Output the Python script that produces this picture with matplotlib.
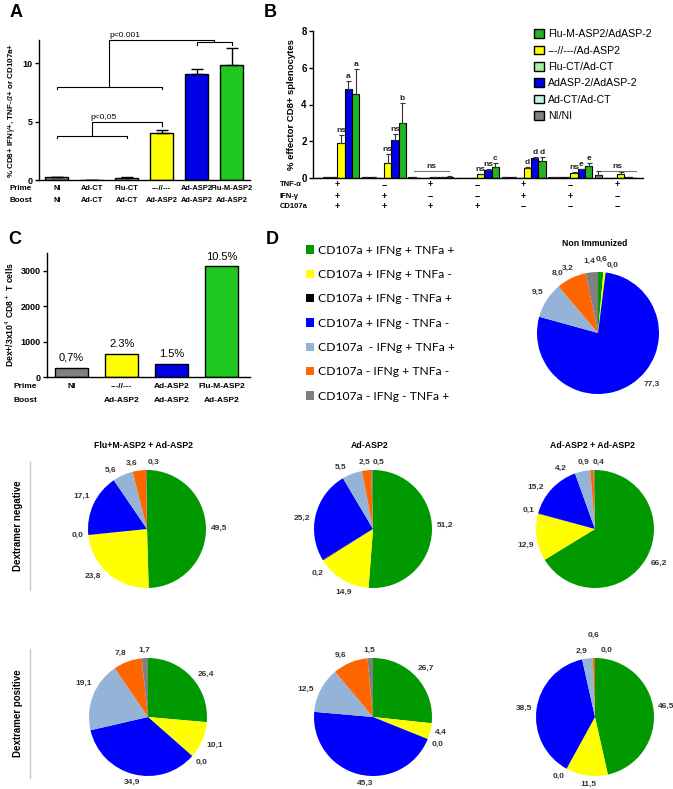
import numpy as np
import matplotlib
matplotlib.use("Agg")
import matplotlib.pyplot as plt
from matplotlib.patches import Patch
from matplotlib.lines import Line2D
from matplotlib.transforms import blended_transform_factory

plt.rcParams['font.family'] = ['Liberation Sans', 'DejaVu Sans']
plt.rcParams['axes.linewidth'] = 1.0

W, H = 673, 789

# ---------------- data ----------------
# panel A
a_prime = ['NI', 'Ad-CT', 'Flu-CT', '---//---', 'Ad-ASP2', 'Flu-M-ASP2']
a_boost = ['NI', 'Ad-CT', 'Ad-CT', 'Ad-ASP2', 'Ad-ASP2', 'Ad-ASP2']
a_vals = [0.28, 0.03, 0.15, 4.0, 9.06, 9.83]
a_err = [0.0, 0.0, 0.08, 0.27, 0.49, 1.47]
a_cols = ['#808080', '#b4f0e6', '#a6eea6', '#ffff00', '#0000e6', '#1ec81e']

# panel B (7 cytokine combinations, 6 groups of mice)
b_tnf = ['+', '\u2212', '+', '\u2212', '+', '\u2212', '+']
b_ifn = ['+', '+', '\u2212', '\u2212', '+', '+', '\u2212']
b_cd107 = ['+', '+', '+', '+', '\u2212', '\u2212', '\u2212']
b_ni = [0.02, 0.03, 0.03, 0.02, 0.04, 0.05, 0.18]
b_adct = [0.03, 0.03, 0.01, 0.01, 0.03, 0.03, 0.02]
b_fluct = [0.03, 0.02, 0.01, 0.01, 0.02, 0.03, 0.01]
b_yel = [1.92, 0.83, 0.03, 0.2, 0.54, 0.29, 0.2]
b_blue = [4.86, 2.09, 0.05, 0.45, 1.1, 0.47, 0.03]
b_green = [4.56, 3.01, 0.07, 0.6, 0.93, 0.65, 0.02]
b_ni_err = [0, 0, 0, 0, 0, 0.02, 0.18]
b_yel_err = [0.44, 0.49, 0.01, 0.03, 0.04, 0.04, 0.13]
b_blue_err = [0.4, 0.32, 0.01, 0.04, 0.05, 0.04, 0]
b_green_err = [1.39, 1.07, 0.02, 0.22, 0.21, 0.18, 0]
b_sig_yel = ['ns', 'ns', '', 'ns', 'd', 'ns', '']
b_sig_blue = ['a', 'ns', '', 'ns', 'd', 'e', '']
b_sig_green = ['a', 'b', '', 'c', 'd', 'e', '']
b_ns_groups = [2, 6]
b_names = ['NI/NI', 'Ad-CT/Ad-CT', 'Flu-CT/Ad-CT', '---//---/Ad-ASP2',
           'AdASP-2/AdASP-2', 'Flu-M-ASP2/AdASP-2']
b_cols = ['#808080', '#bff5e8', '#a6f0a6', '#ffff00', '#0000e6', '#22b422']

# panel C
c_prime = ['NI', '---//---', 'Ad-ASP2', 'Flu-M-ASP2']
c_boost = ['', 'Ad-ASP2', 'Ad-ASP2', 'Ad-ASP2']
c_vals = [260, 650, 360, 3120]
c_pct = ['0,7%', '2.3%', '1.5%', '10.5%']
c_cols = ['#808080', '#ffff00', '#0000e6', '#1ec81e']

# panel D
d_names = ['CD107a + IFNg + TNFa +', 'CD107a + IFNg + TNFa -', 'CD107a + IFNg - TNFa +',
           'CD107a + IFNg - TNFa -', 'CD107a  - IFNg + TNFa +', 'CD107a - IFNg + TNFa -',
           'CD107a - IFNg - TNFa +']
d_cols = ['#009a00', '#ffff00', '#000000', '#0000ff', '#95b3d7', '#ff6600', '#808080']
pie_ni = [1.4, 0.6, 0.0, 77.3, 9.5, 8.0, 3.2]
neg_flu = [49.5, 23.8, 0.0, 17.1, 5.6, 3.6, 0.3]
neg_ad = [51.2, 14.9, 0.2, 25.2, 5.5, 2.5, 0.5]
neg_adad = [66.2, 12.9, 0.1, 15.2, 4.2, 0.9, 0.4]
pos_flu = [26.4, 10.1, 0.0, 34.9, 19.1, 7.8, 1.7]
pos_ad = [26.7, 4.4, 0.0, 45.3, 12.5, 9.6, 1.5]
pos_adad = [46.5, 11.5, 0.0, 38.5, 2.9, 0.6, 0.0]
pie_titles = ['Non Immunized', 'Flu+M-ASP2 + Ad-ASP2', 'Ad-ASP2', 'Ad-ASP2 + Ad-ASP2', '', '', '']

# ---------------- helpers ----------------
fig = plt.figure(figsize=(W / 100, H / 100), dpi=100)


def rect(x0, y0, x1, y1):
    return [x0 / W, 1 - y1 / H, (x1 - x0) / W, (y1 - y0) / H]


def fy(py):
    return 1 - py / H


def bar_axes(ax, size):
    ax.spines['top'].set_visible(False)
    ax.spines['right'].set_visible(False)
    ax.set_xticks([])
    ax.tick_params(axis='y', length=3, width=1, pad=1.5, labelsize=size)
    plt.setp(ax.get_yticklabels(), fontweight='bold')


def bold(x, y, s, size, **kw):
    fig.text(x / W, fy(y), s, fontsize=size, fontweight='bold', **kw)


# ---------------- A ----------------
axA = fig.add_axes(rect(39, 40, 250, 180))
xa = np.arange(len(a_vals))
axA.bar(xa, a_vals, width=0.66, color=a_cols, edgecolor='black', linewidth=1,
        yerr=[np.zeros(len(a_err)), a_err], capsize=4,
        error_kw=dict(elinewidth=1, capthick=1))
axA.set_xlim(-0.51, 5.52)
axA.set_ylim(0, 12)
axA.set_yticks([0, 5, 10])
bar_axes(axA, 6.5)
axA.set_ylabel('% CD8+ IFN$\\gamma$+, TNF-$\\alpha$+ or CD107a+', fontsize=5.8,
               fontweight='bold', labelpad=4)

lk = dict(color='black', lw=0.8, clip_on=False)
axA.plot([0, 0, 2, 2], [3.6, 3.8, 3.8, 3.6], **lk)
axA.plot([1, 1, 3, 3], [3.8, 4.95, 4.95, 4.6], **lk)
axA.text(0.97, 5.05, 'p<0,05', fontsize=6, va='bottom', ha='left')
axA.plot([0, 0, 3, 3], [7.8, 8.0, 8.0, 7.8], **lk)
axA.plot([1.5, 1.5, 4.5, 4.5], [8.0, 12.0, 12.0, 11.8], **lk)
axA.plot([4, 4, 5, 5], [11.6, 11.8, 11.8, 11.6], **lk)
axA.text(1.5, 12.1, 'p<0.001', fontsize=6, va='bottom', ha='left', clip_on=False)

trA = blended_transform_factory(axA.transData, fig.transFigure)
bold(10, 189, 'Prime', 5.8, va='center')
bold(10, 200, 'Boost', 5.8, va='center')
for i in range(len(a_prime)):
    axA.text(i, fy(189), a_prime[i], transform=trA, ha='center', va='center',
             fontsize=5.4, fontweight='bold')
    axA.text(i, fy(200), a_boost[i], transform=trA, ha='center', va='center',
             fontsize=5.4, fontweight='bold')

# ---------------- B ----------------
axB = fig.add_axes(rect(313, 31, 643, 178))
xg = np.arange(len(b_yel))
bw = 0.158
offs = (np.arange(6) - 2.5) * bw
b_series = [b_ni, b_adct, b_fluct, b_yel, b_blue, b_green]
b_errs = [b_ni_err, [0] * 7, [0] * 7, b_yel_err, b_blue_err, b_green_err]
for k in range(6):
    axB.bar(xg + offs[k], b_series[k], width=bw, color=b_cols[k], edgecolor='black',
            linewidth=0.8, yerr=[np.zeros(7), b_errs[k]], capsize=1.8,
            error_kw=dict(elinewidth=0.8, capthick=0.8, ecolor='#333333'))
for k, sig in ((3, b_sig_yel), (4, b_sig_blue), (5, b_sig_green)):
    for g in range(7):
        if sig[g]:
            top = b_series[k][g] + b_errs[k][g]
            axB.text(g + offs[k], top + 0.05, sig[g], ha='center', va='bottom',
                     fontsize=6, fontweight='bold', color='#222222')
for g in b_ns_groups:
    axB.plot([g - 0.35, g + 0.4], [0.38, 0.38], color='#777777', lw=0.8)
    axB.text(g + 0.02, 0.42, 'ns', ha='center', va='bottom', fontsize=6,
             fontweight='bold', color='#222222')
axB.set_xlim(-0.52, 6.56)
axB.set_ylim(0, 8)
axB.set_yticks([0, 2, 4, 6, 8])
bar_axes(axB, 7)
axB.set_ylabel('% effector CD8+ splenocytes', fontsize=6.8, fontweight='bold', labelpad=4)

trB = blended_transform_factory(axB.transData, fig.transFigure)
for py, head, row in ((185, 'TNF-\u03b1', b_tnf), (196, 'IFN-\u03b3', b_ifn),
                      (206, 'CD107a', b_cd107)):
    bold(280, py, head, 5.5, va='center')
    for g in range(7):
        axB.text(g, fy(py), row[g], transform=trB, ha='center', va='center',
                 fontsize=6.5, fontweight='bold')

hB = [Patch(facecolor=b_cols[k], edgecolor='black', linewidth=1, label=b_names[k])
      for k in (5, 3, 2, 4, 1, 0)]
fig.legend(handles=hB, loc='upper left', bbox_to_anchor=(530 / W, fy(25)),
           frameon=False, fontsize=7.6, handlelength=0.9, handleheight=0.9,
           handletextpad=0.4, labelspacing=0.6, borderaxespad=0)

# ---------------- C ----------------
axC = fig.add_axes(rect(47, 253, 250, 377))
xc = np.arange(len(c_vals))
axC.bar(xc, c_vals, width=0.66, color=c_cols, edgecolor='black', linewidth=1)
for i in range(len(c_vals)):
    axC.text(i, c_vals[i] + 140, c_pct[i], ha='center', va='bottom', fontsize=8)
axC.set_xlim(-0.49, 3.56)
axC.set_ylim(0, 3500)
axC.set_yticks([0, 1000, 2000, 3000])
bar_axes(axC, 6.5)
axC.set_ylabel('Dex+/3x10$^4$ CD8$^+$ T cells', fontsize=6.2, fontweight='bold', labelpad=3)
trC = blended_transform_factory(axC.transData, fig.transFigure)
bold(13, 386, 'Prime', 6, va='center')
bold(13, 400, 'Boost', 6, va='center')
for i in range(len(c_prime)):
    axC.text(i, fy(386), c_prime[i], transform=trC, ha='center', va='center',
             fontsize=6, fontweight='bold')
    axC.text(i, fy(400), c_boost[i], transform=trC, ha='center', va='center',
             fontsize=6, fontweight='bold')

# ---------------- D ----------------
hD = [Patch(facecolor=d_cols[k], edgecolor='none', label=d_names[k]) for k in range(7)]
fig.legend(handles=hD, loc='upper left', bbox_to_anchor=(301 / W, fy(240)),
           frameon=False, prop=dict(family='Lato', size=8.7), handlelength=0.7,
           handleheight=0.7, handletextpad=0.3, labelspacing=1.1, borderaxespad=0)

pie_sets = [pie_ni, neg_flu, neg_ad, neg_adad, pos_flu, pos_ad, pos_adad]
pie_geom = [(598, 333, 61), (147, 529, 59), (373, 529, 59), (595, 529, 59),
            (148, 717, 59), (373, 717, 59), (595, 717, 59)]
title_y = [243, 445, 445, 445]
lab_shift = [[10, 3, -6, 10, -2, 6, 16],
             [0, -5, 0, -2, 5, 6, -6],
             [5, 12, 8, 4, 4, 1, -6],
             [0, 7, -2, 6, 14, 7, -4],
             [-4, 0, 0, 0, -7, 0, 0],
             [3, 0, 0, 6, 5, 2, 1],
             [3, 2, 0, 0, 5, 0, -10]]
lab_rad = {(6, 5): 1.32, (0, 0): 1.12, (0, 1): 1.15}

for p, vals in enumerate(pie_sets):
    cx, cy, r = pie_geom[p]
    ax = fig.add_axes(rect(cx - r, cy - r, cx + r, cy + r))
    ax.pie(vals, colors=d_cols, startangle=90, counterclock=False,
           wedgeprops=dict(linewidth=0))
    ax.set_aspect('auto')
    ax.set_xlim(-1, 1)
    ax.set_ylim(-1, 1)
    ax.axis('off')
    tot = sum(vals)
    cum = np.cumsum([0] + vals[:-1])
    for i, v in enumerate(vals):
        ang = np.deg2rad(90 - 360 * (cum[i] + v / 2) / tot + lab_shift[p][i])
        rr = lab_rad.get((p, i), 1.08)
        c, s = np.cos(ang), np.sin(ang)
        ha = 'left' if c > 0.3 else ('right' if c < -0.3 else 'center')
        va = 'bottom' if s > 0.3 else ('top' if s < -0.3 else 'center')
        ax.text(rr * c, rr * s, f'{v:.1f}'.replace('.', ','), ha=ha, va=va,
                fontsize=6, fontweight='bold', color='#333333', clip_on=False)
    if pie_titles[p]:
        bold(cx - 3, title_y[p], pie_titles[p], 6.3, ha='center', va='center')

for py0, py1, txt in ((462, 590, 'Dextramer negative'), (649, 778, 'Dextramer positive')):
    fig.add_artist(Line2D([30 / W, 30 / W], [fy(py0), fy(py1)], color='#c8c8c8', lw=1))
    bold(18, (py0 + py1) / 2, txt, 7, rotation=90, ha='center', va='center')

# panel letters
for x, y, s in ((10, 4, 'A'), (264, 4, 'B'), (8, 231, 'C'), (266, 231, 'D')):
    bold(x, y, s, 13, va='top', ha='left')

fig.savefig('out.png', dpi=100)
